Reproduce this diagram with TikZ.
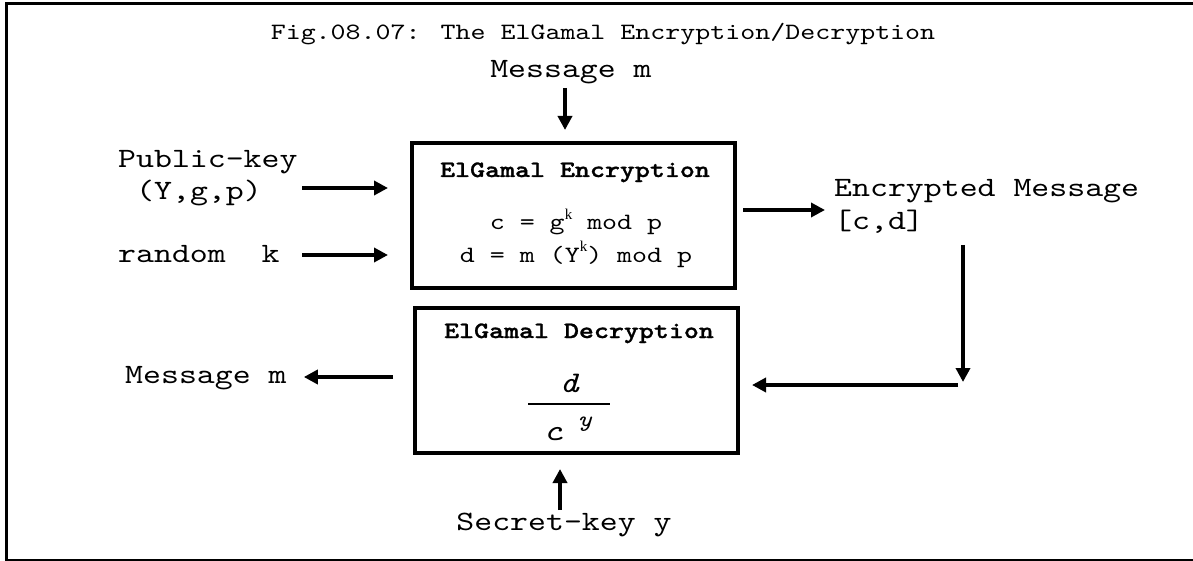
\documentclass[tikz,border=0pt]{standalone}
\usepackage{fontspec}
\setmainfont{lmmono10-regular}[Extension=.otf, FakeStretch=1.22,
  BoldFont=lmmonolt10-bold, BoldFeatures={FakeBold=1.2}, ItalicFont=lmmono10-italic]
\newfontfamily\serifk{Liberation Serif}
\usetikzlibrary{arrows.meta}
\tikzset{
  lbl/.style={inner sep=0pt, font=\fontsize{28}{34}\selectfont},
  small/.style={inner sep=0pt, font=\fontsize{23.4}{28}\selectfont},
  boxhead/.style={inner sep=0pt, font=\fontsize{23.4}{28}\selectfont\bfseries},
  fracpart/.style={inner sep=0pt, font=\fontsize{30}{34}\selectfont\itshape},
  blockbox/.style={draw, line width=4pt, inner sep=0pt, minimum width=323pt, minimum height=145pt},
  arr/.style={line width=3.5pt, -{Triangle[length=14pt,width=14pt]}},
  frameline/.style={line width=3pt},
}
\newcommand{\supk}{\raisebox{0.45em}{\serifk\fontsize{15}{15}\selectfont k}}

\begin{document}
\begin{tikzpicture}[x=1pt,y=-1pt]
\useasboundingbox (0,0) rectangle (1193,561);

% outer frame
\draw[frameline] (5,4) -- (1200,4);
\draw[frameline] (6.5,3) -- (6.5,562);
\draw[line width=2.5pt] (5,560) -- (1200,560);

% title
\node[small, anchor=base] (title) at (603,40) {Fig.08.07: The ElGamal Encryption/Decryption};

% the two blocks
\node[blockbox] (enc) at (573.5,215.5) {};
\node[blockbox] (dec) at (576.5,380.5) {};

% encryption block contents
\node[boxhead, anchor=base] (enchead) at (575,177) {ElGamal Encryption};
\node[small, anchor=base] (encc) at (576,230) {c = g\supk{} mod p};
\node[small, anchor=base] (encd) at (576,262) {d = m (Y\supk) mod p};

% decryption block contents
\node[boxhead, anchor=base] (dechead) at (579,338) {ElGamal Decryption};
\node[fracpart, anchor=base] (num) at (569,392) {d};
\coordinate (fracl) at (528,404);
\coordinate (fracr) at (610,404);
\draw[line width=1.5pt] (fracl) -- (fracr);
\node[fracpart, anchor=base] (den) at (553,440) {c};
\node[inner sep=0pt, anchor=base, font=\fontsize{22}{24}\selectfont\itshape] (denexp) at (585,426) {y};

% outside labels
\node[lbl, anchor=base] (msgin) at (571,78) {Message m};
\node[lbl, anchor=base west] (pub1) at (118,168) {Public-key};
\node[lbl, anchor=base west] (pub2) at (136,200) {(Y,g,p)};
\node[lbl, anchor=base west] (rnd) at (118,262) {random\ \ k};
\node[lbl, anchor=base west] (cipher1) at (834,197) {Encrypted Message};
\node[lbl, anchor=base west] (cipher2) at (834,230) {[c,d]};
\node[lbl, anchor=base west] (msgout) at (125,383) {Message m};
\node[lbl, anchor=base] (secret) at (564,530) {Secret-key y};

% connectors
\coordinate (msgtail) at (565,88);
\draw[arr, shorten >=11pt] (msgtail) -- (msgtail |- enc.north);

\coordinate (pubtail) at (302,188);
\draw[arr, shorten >=22pt] (pubtail) -- (pubtail -| enc.west);

\coordinate (rndtail) at (302,255);
\draw[arr, shorten >=22pt] (rndtail) -- (rndtail -| enc.west);

\coordinate (enctail) at (735,210);
\draw[arr, shorten <=8pt, shorten >=9pt] (enctail) -- (enctail -| cipher1.west);

\coordinate (downtop) at (963,245);
\coordinate (downend) at (963,382);
\draw[arr] (downtop) -- (downend);

\coordinate (backtail) at (958,385);
\draw[arr, shorten >=12pt] (backtail) -- (backtail -| dec.east);

\coordinate (outtail) at (393,377);
\draw[arr, shorten >=17pt] (outtail) -- (outtail -| msgout.east);

\coordinate (secrettail) at (560,510);
\draw[arr, shorten >=14pt] (secrettail) -- (secrettail |- dec.south);
\end{tikzpicture}
\end{document}
